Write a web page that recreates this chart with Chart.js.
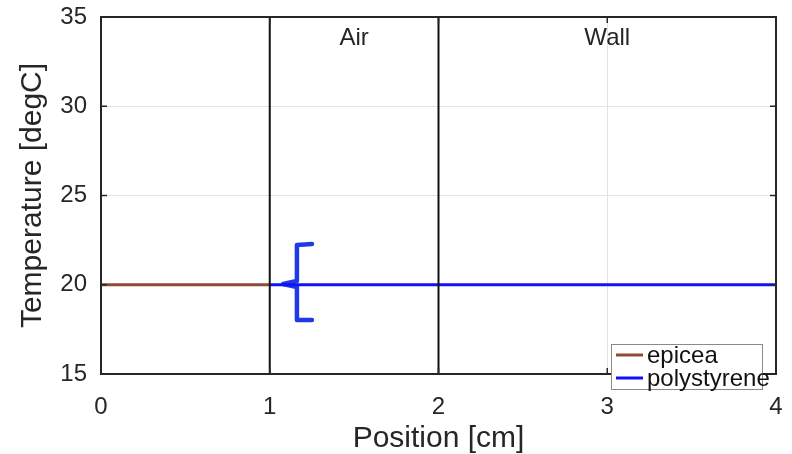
<!DOCTYPE html>
<html lang="en">
<head>
    <meta charset="UTF-8">
    <title>Temperature profile</title>
    <script src="https://cdn.jsdelivr.net/npm/chart.js@4"></script>
    <style>
        body { margin: 0; background: #fff; }
        #chart { display: block; }
    </style>
</head>
<body>
    <canvas id="chart" width="792" height="454"></canvas>

    <script>
        // data
        var epiceaPos = [0, 0.5, 1];
        var epiceaTemp = [20, 20, 20];
        var polyPos = [1, 2, 3, 4];
        var polyTemp = [20, 20, 20, 20];

        // layer boundaries (vertical lines)
        var boundaryPos = [1, 2];
        var tempRange = [15, 35];

        // region labels
        var regionNames = ['Air', 'Wall'];
        var regionPos = [1.5, 3];
        var regionLabelTemp = 33.8;

        // curly brace drawn next to x=1
        var bracePos = [1.25, 1.161, 1.161, 1.079, 1.161, 1.161, 1.25];
        var braceTemp = [22.28, 22.23, 20.21, 20.04, 19.87, 18.03, 18.03];

        var xTicks = [0, 1, 2, 3, 4];
        var yTicks = [15, 20, 25, 30, 35];

        var textColor = '#262626';
        var fontFamily = '"Liberation Sans", Arial, Helvetica, sans-serif';

        function pts(xs, ys) {
            return xs.map(function (x, i) { return { x: x, y: ys[i] }; });
        }

        var datasets = [];
        boundaryPos.forEach(function (b) {
            datasets.push({
                data: pts([b, b], tempRange),
                borderColor: '#111111',
                borderWidth: 2,
                inLegend: false
            });
        });
        datasets.push({
            label: 'epicea',
            data: pts(epiceaPos, epiceaTemp),
            borderColor: '#8e4b32',
            borderWidth: 3,
            inLegend: true
        });
        datasets.push({
            label: 'polystyrene',
            data: pts(polyPos, polyTemp),
            borderColor: '#1010ff',
            borderWidth: 3,
            inLegend: true
        });
        datasets.push({
            data: pts(bracePos, braceTemp),
            borderColor: '#1e3ae6',
            borderWidth: 4.5,
            borderJoinStyle: 'round',
            borderCapStyle: 'round',
            inLegend: false
        });
        datasets.forEach(function (d) {
            d.showLine = true;
            d.pointRadius = 0;
            d.fill = false;
        });

        // box, inner ticks, region labels and legend
        var decorations = {
            id: 'decorations',
            afterDatasetsDraw: function (chart) {
                var ctx = chart.ctx;
                var a = chart.chartArea;
                var xs = chart.scales.x, ys = chart.scales.y;
                ctx.save();

                // region labels
                ctx.fillStyle = textColor;
                ctx.font = '24px ' + fontFamily;
                ctx.textAlign = 'center';
                ctx.textBaseline = 'middle';
                regionNames.forEach(function (name, i) {
                    ctx.fillText(name, xs.getPixelForValue(regionPos[i]), ys.getPixelForValue(regionLabelTemp));
                });

                // axes box
                ctx.strokeStyle = textColor;
                ctx.lineWidth = 2;
                ctx.strokeRect(a.left, a.top, a.right - a.left, a.bottom - a.top);

                // inward tick marks
                ctx.lineWidth = 1.5;
                ctx.beginPath();
                xTicks.forEach(function (t) {
                    var px = xs.getPixelForValue(t);
                    ctx.moveTo(px, a.bottom); ctx.lineTo(px, a.bottom - 6);
                    ctx.moveTo(px, a.top); ctx.lineTo(px, a.top + 6);
                });
                yTicks.forEach(function (t) {
                    var py = ys.getPixelForValue(t);
                    ctx.moveTo(a.left, py); ctx.lineTo(a.left + 6, py);
                    ctx.moveTo(a.right, py); ctx.lineTo(a.right - 6, py);
                });
                ctx.stroke();

                // legend box
                var lx = 611, ly = 344, lw = 151, lh = 45;
                ctx.fillStyle = '#ffffff';
                ctx.fillRect(lx, ly, lw, lh);
                ctx.strokeStyle = '#8a8a8a';
                ctx.lineWidth = 1;
                ctx.strokeRect(lx + 0.5, ly + 0.5, lw, lh);
                var entries = chart.data.datasets.filter(function (d) { return d.inLegend; });
                ctx.font = '24px ' + fontFamily;
                ctx.textAlign = 'left';
                ctx.textBaseline = 'middle';
                entries.forEach(function (d, i) {
                    var yy = ly + 11 + i * 23;
                    ctx.strokeStyle = d.borderColor;
                    ctx.lineWidth = 3;
                    ctx.beginPath();
                    ctx.moveTo(616, yy);
                    ctx.lineTo(643, yy);
                    ctx.stroke();
                    ctx.fillStyle = '#111111';
                    ctx.fillText(d.label, 647, yy + 1);
                });
                ctx.restore();
            }
        };

        new Chart(document.getElementById('chart'), {
            type: 'scatter',
            data: { datasets: datasets },
            options: {
                responsive: false,
                animation: false,
                layout: { padding: { top: 17, right: 16, left: 0, bottom: 0 } },
                plugins: {
                    legend: { display: false },
                    tooltip: { enabled: false }
                },
                scales: {
                    x: {
                        type: 'linear',
                        min: 0,
                        max: 4,
                        afterBuildTicks: function (s) { s.ticks = xTicks.map(function (v) { return { value: v }; }); },
                        afterFit: function (s) { s.height = 80; },
                        ticks: {
                            color: textColor,
                            font: { family: fontFamily, size: 24 },
                            padding: 2,
                            maxRotation: 0
                        },
                        grid: { color: '#e3e3e3', lineWidth: 1, drawTicks: true, tickLength: 17, tickColor: 'rgba(0,0,0,0)' },
                        border: { display: false },
                        title: {
                            display: true,
                            text: 'Position [cm]',
                            color: textColor,
                            font: { family: fontFamily, size: 30 },
                            padding: { top: 0, bottom: -3 }
                        }
                    },
                    y: {
                        min: 15,
                        max: 35,
                        afterBuildTicks: function (s) { s.ticks = yTicks.map(function (v) { return { value: v }; }); },
                        afterFit: function (s) { s.width = 101; },
                        ticks: {
                            color: textColor,
                            font: { family: fontFamily, size: 24 },
                            padding: 2
                        },
                        grid: { color: '#e3e3e3', lineWidth: 1, drawTicks: true, tickLength: 12, tickColor: 'rgba(0,0,0,0)' },
                        border: { display: false },
                        title: {
                            display: true,
                            text: 'Temperature [degC]',
                            color: textColor,
                            font: { family: fontFamily, size: 30 },
                            padding: { top: 15, bottom: 0 }
                        }
                    }
                }
            },
            plugins: [decorations]
        });
    </script>
</body>
</html>
